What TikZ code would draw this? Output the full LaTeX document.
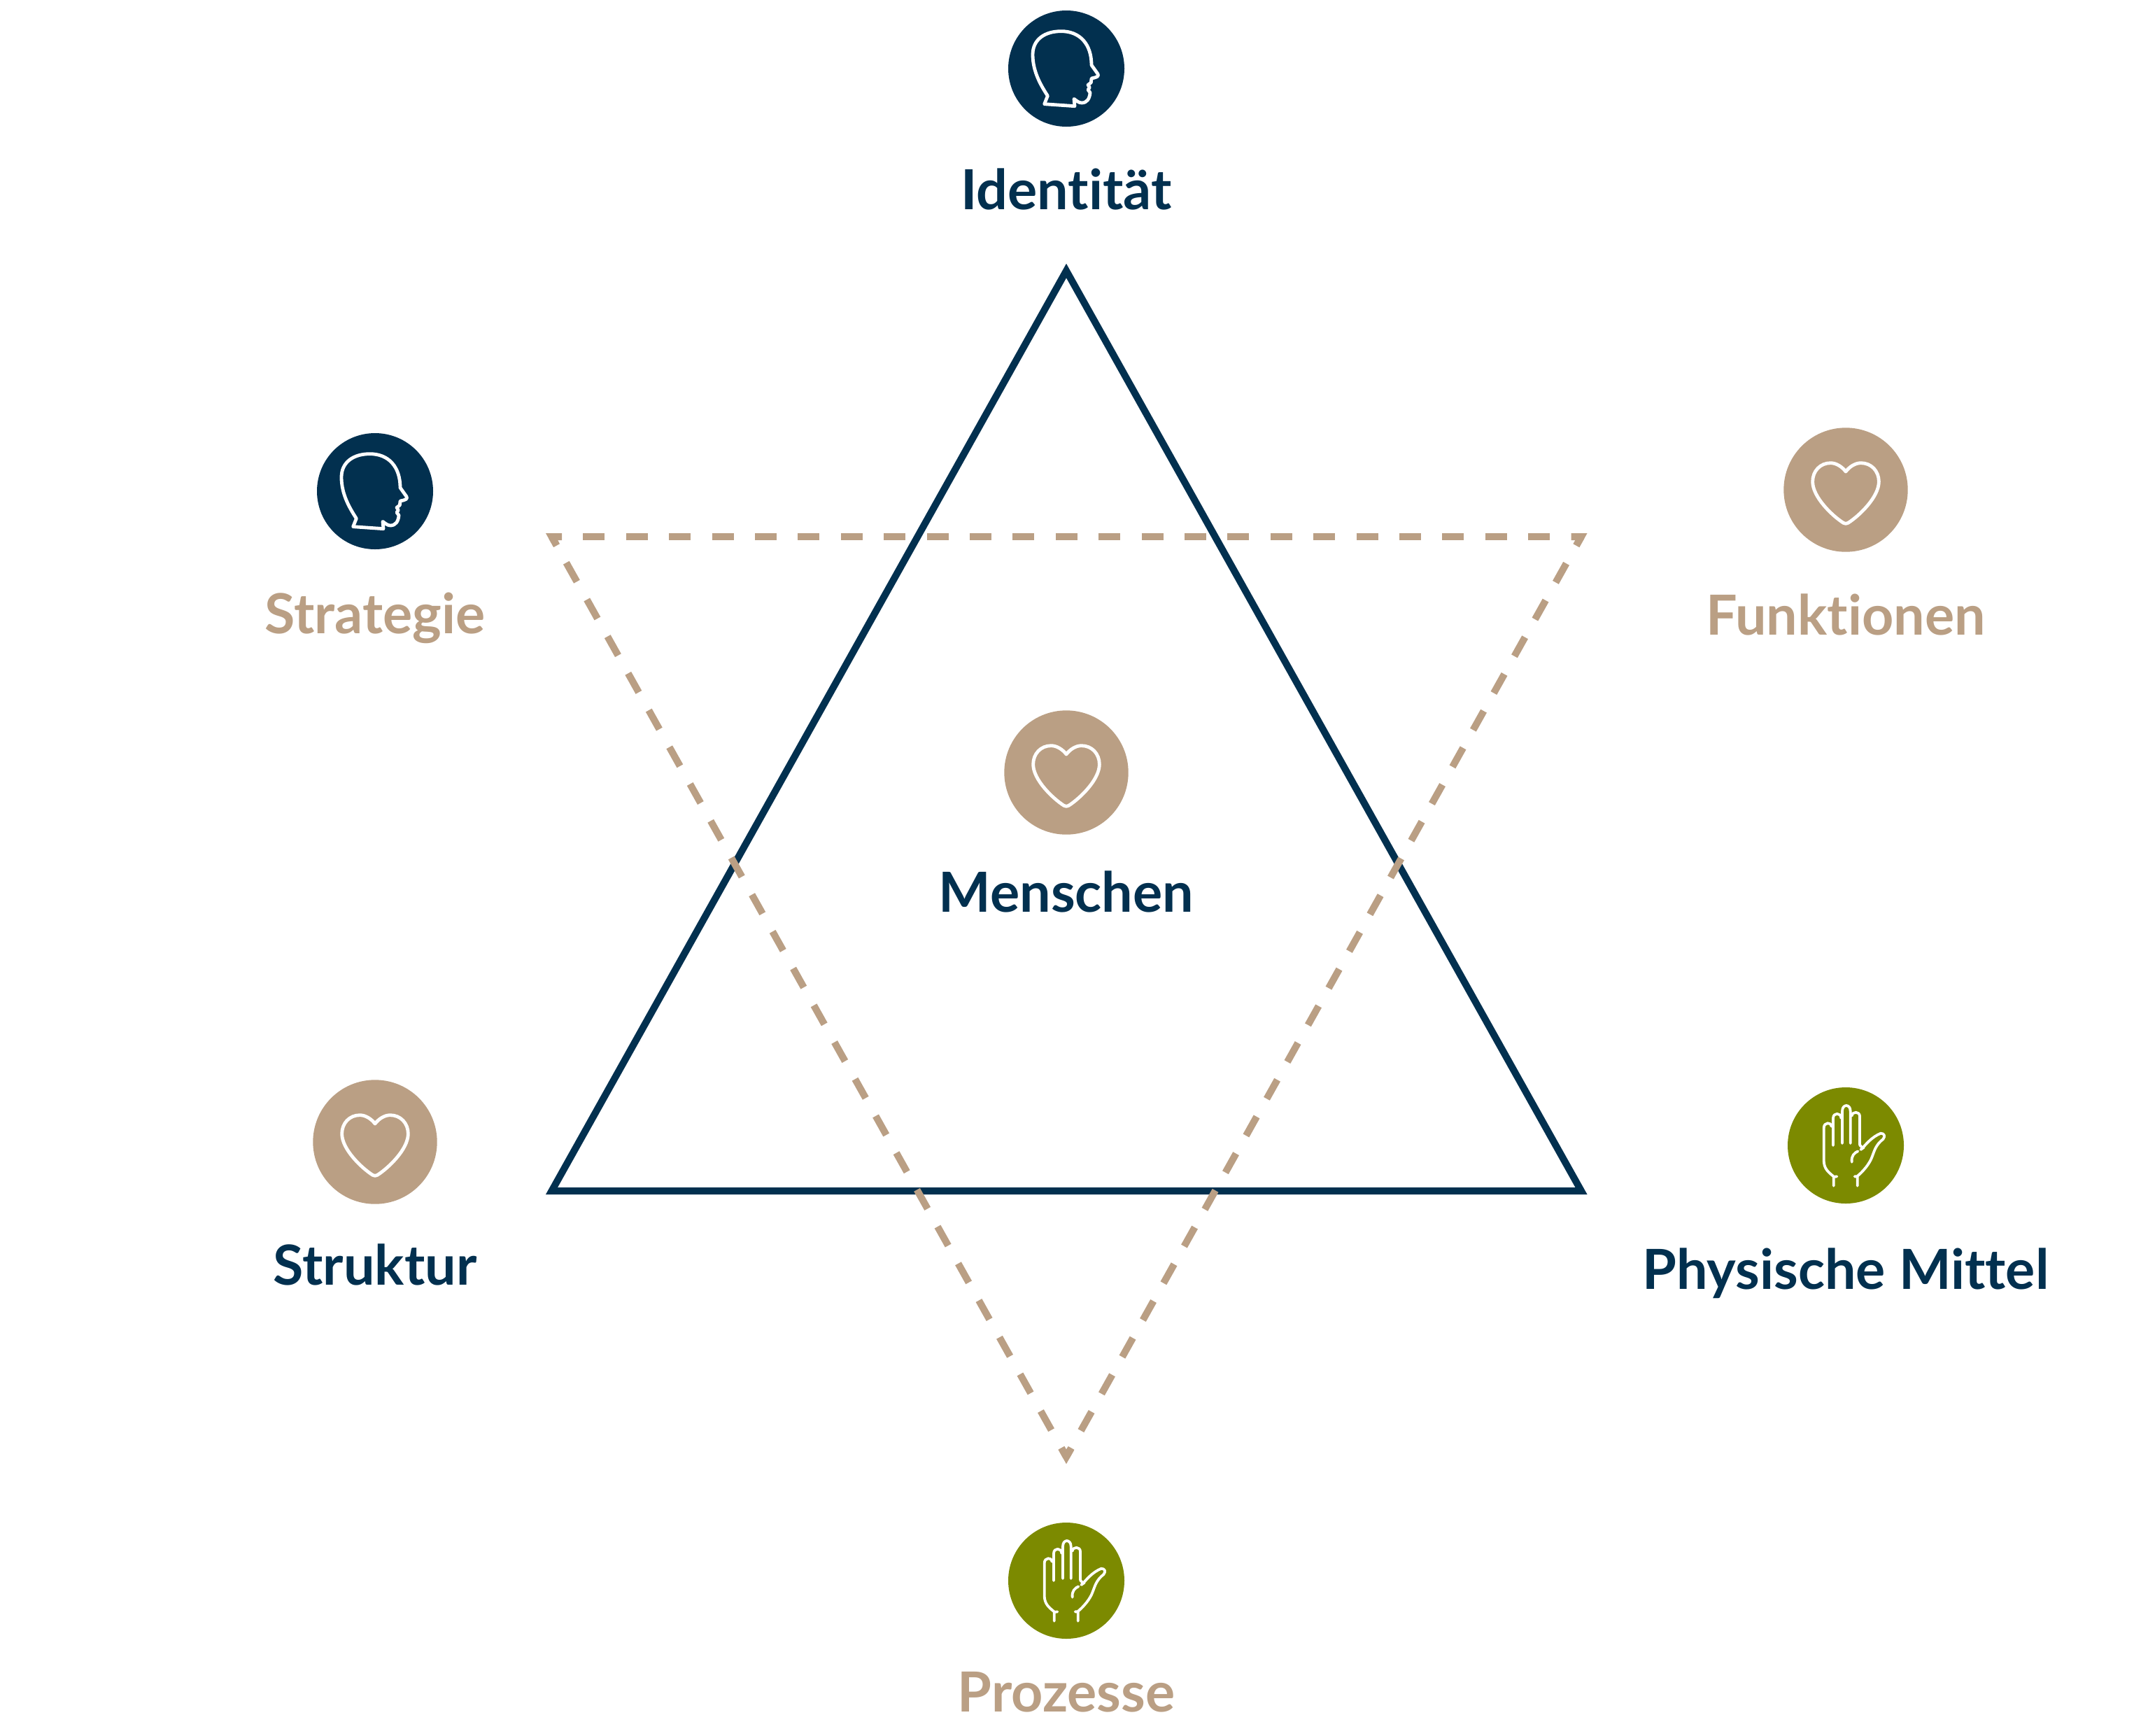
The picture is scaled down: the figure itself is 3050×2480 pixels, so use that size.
\documentclass[tikz,border=0pt]{standalone}
\usepackage{fontspec}
\setmainfont{Lato}[Ligatures=CommonOff]
\usetikzlibrary{calc}
\definecolor{navy}{HTML}{02304F}
\definecolor{tan}{HTML}{BA9F84}
\definecolor{olive}{HTML}{7C8A00}
\tikzset{
  px/.style={x=0.5pt,y=-0.5pt},
  disc/.style={circle,draw=none,inner sep=0pt,minimum size=#1*1pt},
  lbl/.style={anchor=base,inner sep=0pt,font=\fontsize{39.5}{40}\selectfont\bfseries},
  solidtri/.style={draw=navy,line width=5pt,miter limit=10,line join=miter},
  dashedge/.style={draw=tan,line width=5pt,dash pattern=on 15.5pt off #1,dash phase=8.25pt},
  cornerpiece/.style={draw=tan,line width=5pt,line join=miter,miter limit=10},
  headicon/.pic={
    \begin{scope}[x=0.16667pt,y=-0.16667pt,shift={(-312,-295)}]
    \draw[white,line width=2.4pt,line join=round]
      (218,447) -- (232,412) .. controls (205,370) and (168,310) .. (168,235)
      .. controls (168,170) and (220,135) .. (290,135)
      .. controls (370,135) and (420,190) .. (420,280)
      -- (447,318) .. controls (452,328) and (445,332) .. (420,337)
      -- (418,355) -- (405,365) -- (412,376) -- (405,386) -- (414,398)
      .. controls (412,425) and (400,442) .. (378,442)
      .. controls (365,442) and (355,432) .. (345,425)
      -- (348,456) -- cycle;
    \end{scope}
  },
  hearticon/.pic={
    \begin{scope}[x=0.16667pt,y=-0.16667pt]
    \draw[white,line width=2.4pt,line join=round]
      (0,-78) .. controls (-15,-98) and (-40,-115) .. (-65,-115)
      .. controls (-110,-115) and (-142,-80) .. (-142,-35)
      .. controls (-142,30) and (-60,110) .. (-10,142)
      .. controls (-4,146) and (4,146) .. (10,142)
      .. controls (60,110) and (142,30) .. (142,-35)
      .. controls (142,-80) and (110,-115) .. (65,-115)
      .. controls (40,-115) and (15,-98) .. (0,-78) -- cycle;
    \end{scope}
  },
  handicon/.pic={
    \begin{scope}[x=0.16667pt,y=-0.16667pt,shift={(-312,-297)}]
    \draw[white,line width=1.9pt,line cap=round,line join=round]
      (260,470) -- (260,432) -- (274,430)
      (260,430) .. controls (235,410) and (218,395) .. (218,360)
      -- (218,222) .. controls (218,196) and (250,196) .. (250,215)
      (258,297) -- (258,180) .. controls (258,155) and (292,155) .. (292,180)
      (297,288) -- (297,150) .. controls (297,118) and (332,118) .. (332,150) -- (332,288)
      (338,170) .. controls (340,150) and (372,150) .. (372,172) -- (372,295)
      (372,295) -- (384,308) .. controls (400,290) and (425,260) .. (462,245)
      .. controls (478,245) and (482,258) .. (472,270)
      .. controls (440,295) and (435,320) .. (425,345)
      .. controls (415,375) and (385,410) .. (360,430)
      (350,430) -- (362,430) -- (362,470)
      (338,368) .. controls (335,340) and (350,328) .. (364,322)
      (376,315) -- (390,305);
    \end{scope}
  }
}
\begin{document}
\begin{tikzpicture}[px]
\useasboundingbox (0,0) rectangle (3050,2480);
% solid triangle
\coordinate (sa) at (1524,387);
\coordinate (sl) at (788.5,1702);
\coordinate (sr) at (2260,1702);
\path[solidtri] (sa) -- (sl) -- (sr) -- cycle;
% dashed triangle
\coordinate (dl) at (788.5,767);
\coordinate (dr) at (2260,767);
\coordinate (db) at (1524,2082);
\path[dashedge=15.2pt] (dl) -- (dr);
\path[dashedge=14.7pt] (dr) -- (db);
\path[dashedge=14.7pt] (db) -- (dl);
\path[cornerpiece] ($(dl)!7.25pt!(db)$) -- (dl) -- ($(dl)!7.25pt!(dr)$);
\path[cornerpiece] ($(dr)!7.25pt!(dl)$) -- (dr) -- ($(dr)!7.25pt!(db)$);
\path[cornerpiece] ($(db)!7.25pt!(dr)$) -- (db) -- ($(db)!7.25pt!(dl)$);
% discs
\node[disc=83,fill=navy] (cid) at (1524,98) {};
\node[disc=83,fill=navy] (cst) at (536,702) {};
\node[disc=88.7,fill=tan] (cfu) at (2638,700) {};
\node[disc=88.7,fill=tan] (cme) at (1524,1104) {};
\node[disc=88.7,fill=tan] (csk) at (536,1632) {};
\node[disc=83,fill=olive] (cph) at (2638,1637) {};
\node[disc=83,fill=olive] (cpr) at (1524,2259) {};
% icons
\pic at (cid) {headicon};
\pic at (cst) {headicon};
\pic at (cfu) {hearticon};
\pic at (cme) {hearticon};
\pic at (csk) {hearticon};
\pic at (cph) {handicon};
\pic at (cpr) {handicon};
% labels
\node[lbl,text=navy] (tid) at (1524,299) {Identität};
\node[lbl,text=tan] (tst) at (536,905) {Strategie};
\node[lbl,text=tan] (tfu) at (2638,907) {Funktionen};
\node[lbl,text=navy] (tme) at (1524,1303) {Menschen};
\node[lbl,text=navy] (tsk) at (536,1836) {Struktur};
\node[lbl,text=navy] (tph) at (2638,1842) {Physische Mittel};
\node[lbl,text=tan] (tpr) at (1524,2446) {Prozesse};
\end{tikzpicture}
\end{document}
